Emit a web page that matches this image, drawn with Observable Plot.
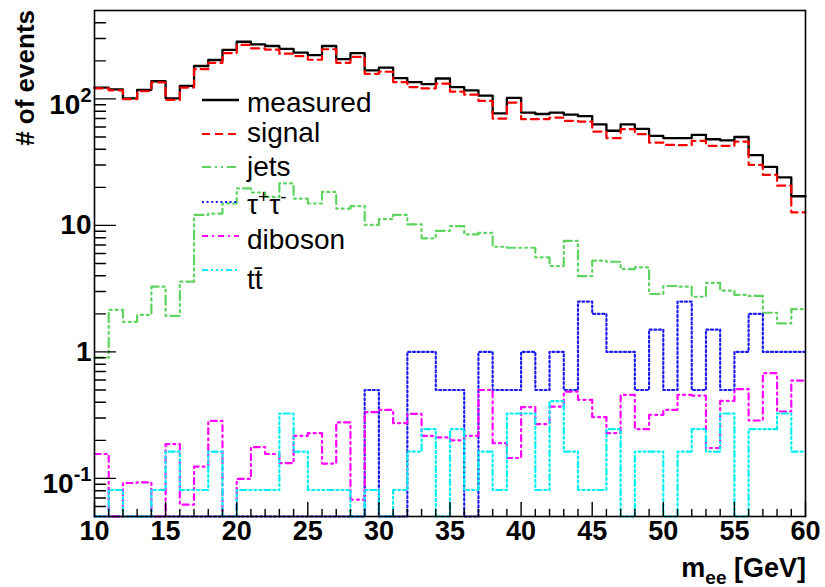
<!DOCTYPE html>
<html><head><meta charset="utf-8">
<script src="https://cdn.jsdelivr.net/npm/d3@7"></script>
<script src="https://cdn.jsdelivr.net/npm/@observablehq/plot@0.6"></script>
<style>html,body{margin:0;padding:0;background:#fff;} #chart svg{display:block}</style>
</head><body><div id="chart"></div>
<script>
// ---- data (one value per 1 GeV bin, 10..60 GeV) ----
const binEdges = d3.range(10, 61, 1);
const measured = [123,119,101,118,138,101,127,182,203,244,283,270,262,249,232,222,262,206,230,168,177,146,136,131,145,124,117,106,77,102,78,76,78,75,73,63,56,63,58,51,49,49,52,48,47,50,36,29,24,17];
const signal = [121,117,99.5,115,135,98.2,123,172,193,230,267,251,245,228,218,204,247,193,215,158,164,136,124,121,132,114,108,96.4,69.9,93.5,69.2,69.2,71.2,67.0,66.2,55.2,49.0,57.7,52.6,45.2,43.3,43.1,46.6,42.6,42.6,46.0,30.1,25.1,20.6,12.7];
const jets = [0.90,2.15,1.73,1.96,3.28,1.93,3.59,12.1,12.4,14.9,19.6,18.2,16.8,21.5,16.3,14.9,18.4,13.6,14.2,10.1,11.2,12.1,10.2,7.9,9.07,9.87,8.49,8.74,6.78,6.66,6.66,5.59,4.77,7.56,3.98,5.26,5.16,4.52,4.66,2.87,3.32,3.28,2.73,3.52,3.05,2.82,2.77,2.04,1.68,2.18];
const tautau = [0,0,0,0,0,0,0,0,0,0,0,0,0,0,0,0,0,0,0,0.5,0,0,1,1,0.5,0.5,0,1,0.5,0.5,1,0.5,1,0.5,2.5,2,1,1,0.5,1.5,0.5,2.5,0.5,1.5,0.5,1,2,1,1,1];
const diboson = [0.156,0,0.092,0.093,0,0.187,0.062,0.124,0.285,0,0.099,0.177,0.156,0.132,0.217,0.228,0.131,0.277,0.068,0.334,0.348,0.274,0.324,0.217,0.211,0.200,0.217,0.5,0.19,0.145,0.366,0.269,0.37,0.486,0.418,0.305,0.228,0.458,0.245,0.318,0.348,0.458,0.452,0.174,0.41,0.508,0.287,0.679,0.338,0.594];
const ttbar = [0,0.081,0,0,0.081,0.163,0.081,0.081,0.163,0,0.081,0.081,0.081,0.326,0.163,0.081,0.081,0.081,0,0.081,0,0.081,0.163,0.245,0,0.245,0.081,0.163,0.081,0.326,0.326,0.081,0.408,0.163,0.081,0.081,0.245,0,0.163,0.163,0,0.163,0.245,0.163,0.326,0,0.245,0.245,0.326,0.163];

const seriesValues = [measured, signal, jets, tautau, diboson, ttbar];
const seriesNames = ["measured", "signal", "jets", "τ^{+}τ^{-}", "diboson", "tt\u0304"];
const seriesColors = ["#000000", "#ff0000", "#5fd35f", "#1c1cf0", "#ff00ff", "#00f0f0"];
const seriesDash = [null, "8,5", "9,4,2,4,2,4", "2,2.6", "6,4,2,4", "6,3,2,3,2,3,2,3"];
const seriesWidth = [2.3, 2.2, 2.2, 2.2, 2.2, 2.2];

const xMajorTicks = [10, 15, 20, 25, 30, 35, 40, 45, 50, 55, 60];
const yMajorTicks = [0.1, 1, 10, 100];
const yTickLabels = ["10^{-1}", "1", "10", "10^{2}"];
const xAxisTitle = "m_{ee} [GeV]";
const yAxisTitle = "# of events";
const yDomain = [0.05, 500];

// ---- derived ----
const xMinorTicks = binEdges.filter(d => !xMajorTicks.includes(d));
const yMinorTicks = [];
[0.01, 0.1, 1, 10, 100].forEach(dec => { for (let m = 2; m <= 9; m++) { const v = +(dec * m).toPrecision(3); if (v > yDomain[0] && v < yDomain[1]) yMinorTicks.push(v); } });

function stepRows(values) {
  return binEdges.map((e, i) => ({x: e, y: Math.max(values[Math.min(i, values.length - 1)], yDomain[0])}));
}
const tickShape = {draw(context, l) { context.moveTo(0, 0); context.lineTo(0, -l); }};
const FONT = "'Liberation Sans', Arial, Helvetica, sans-serif";

const plot = Plot.plot({
  width: 825, height: 587,
  marginLeft: 94, marginRight: 20, marginTop: 10, marginBottom: 71,
  x: {domain: [10, 60], axis: null},
  y: {type: "log", domain: yDomain, axis: null},
  style: {background: "white", fontFamily: FONT, color: "black"},
  marks: [
    ...seriesValues.map((vals, i) => Plot.line(stepRows(vals), {
      x: "x", y: "y", curve: "step-after",
      stroke: seriesColors[i], strokeWidth: seriesWidth[i],
      strokeDasharray: seriesDash[i] ?? undefined
    })),
    Plot.frame({stroke: "black", strokeWidth: 1.6}),
    Plot.vector(xMajorTicks, {x: d => d, frameAnchor: "bottom", length: 14, anchor: "start", shape: tickShape, stroke: "black", strokeWidth: 1.4}),
    Plot.vector(xMinorTicks, {x: d => d, frameAnchor: "bottom", length: 7, anchor: "start", shape: tickShape, stroke: "black", strokeWidth: 1.4}),
    Plot.vector(yMajorTicks, {y: d => d, frameAnchor: "left", rotate: 90, length: 21, anchor: "start", shape: tickShape, stroke: "black", strokeWidth: 1.4}),
    Plot.vector(yMinorTicks, {y: d => d, frameAnchor: "left", rotate: 90, length: 11, anchor: "start", shape: tickShape, stroke: "black", strokeWidth: 1.4}),
    Plot.text(xMajorTicks, {x: d => d, frameAnchor: "bottom", dy: 23, text: d => String(d), fontSize: 27, fontWeight: "bold", fill: "black"}),
    Plot.text(yMajorTicks, {y: d => d, frameAnchor: "left", dx: -3, textAnchor: "end", text: (d, i) => yTickLabels[i], fontSize: 28, fontWeight: "bold", fill: "black"})
  ]
});

// rich text: ^{sup} and _{sub}
function richText(sel, str, supSize, supShift, subShift, baseOffset = 0) {
  sel.text(null);
  const parts = str.split(/(\^\{[^}]*\}|_\{[^}]*\})/).filter(p => p !== "");
  let cur = 0;
  parts.forEach(p => {
    let target = baseOffset, txt = p, size = null;
    if (p.startsWith("^{")) { target = baseOffset - supShift; txt = p.slice(2, -1); size = supSize; }
    else if (p.startsWith("_{")) { target = baseOffset + subShift; txt = p.slice(2, -1); size = supSize; }
    const t = sel.append("tspan").text(txt).attr("dy", target - cur);
    if (size) t.attr("font-size", size);
    cur = target;
  });
}

const svg = d3.select(plot);
svg.selectAll("text").each(function() {
  const s = this.textContent;
  if (/\^\{/.test(s)) richText(d3.select(this), s, 20, 12, 0, 6);
});

// axis titles
const xt = svg.append("text").attr("x", 806).attr("y", 577).attr("text-anchor", "end")
  .attr("font-family", FONT).attr("font-size", 27).attr("font-weight", "bold").attr("fill", "black");
richText(xt, xAxisTitle, 19, 10, 7);
svg.append("text").attr("transform", "translate(34,10) rotate(-90)").attr("text-anchor", "end")
  .attr("font-family", FONT).attr("font-size", 26).attr("font-weight", "bold").attr("fill", "black")
  .text(yAxisTitle);

// legend
const legY = [100, 134, 167, 202, 236, 270];
const legBase = [112, 142, 176, 214, 249, 289];
const leg = svg.append("g").attr("font-family", FONT).attr("font-size", 28).attr("text-anchor", "start");
seriesNames.forEach((name, i) => {
  leg.append("line").attr("x1", 202).attr("x2", 239).attr("y1", legY[i]).attr("y2", legY[i])
    .attr("stroke", seriesColors[i]).attr("stroke-width", seriesWidth[i])
    .attr("stroke-dasharray", seriesDash[i]);
  const t = leg.append("text").attr("x", 247).attr("y", legBase[i]).attr("fill", "black").attr("text-anchor", "start");
  richText(t, name, 19, 11, 0);
});

document.getElementById("chart").appendChild(plot);
</script></body></html>
